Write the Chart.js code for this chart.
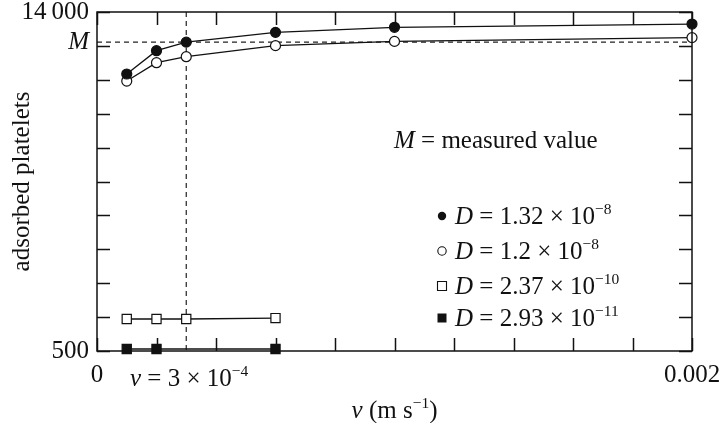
<!DOCTYPE html>
<html>
<head>
<meta charset="utf-8">
<script src="https://cdn.jsdelivr.net/npm/chart.js@4/dist/chart.umd.min.js"></script>
<style>
    html, body { margin: 0; padding: 0; background: #fff; }
    #wrap { width: 721px; height: 423px; }
</style>
</head>
<body>
<div id="wrap"><canvas id="plateletChart"></canvas></div>
<script>
// flow velocities (m/s)
const velocities = [0.0001, 0.0002, 0.0003, 0.0006, 0.001, 0.002];
const velocitiesSlow = [0.0001, 0.0002, 0.0003, 0.0006];
const velocitiesSlowest = [0.0001, 0.0002, 0.0006];

// adsorbed platelets per diffusion coefficient
const seriesD132 = [11530, 12460, 12800, 13190, 13390, 13520];
const seriesD120 = [11250, 11980, 12220, 12660, 12830, 12980];
const seriesD237 = [1775, 1775, 1775, 1810];
const seriesD293 = [580, 580, 580];

const measuredValue = 12800;
const markedVelocity = 0.0003;

const yMin = 500, yMax = 14000, yStep = 1350;
const xMin = 0, xMax = 0.002, xStep = 0.0002;

const legendMantissa = ['1.32', '1.2', '2.37', '2.93'];
const legendExponent = ['\u22128', '\u22128', '\u221210', '\u221211'];

const FONT = '"Liberation Serif", "Times New Roman", serif';
const SIZE = 25;

function toPoints(xs, ys) {
    return xs.map((x, i) => ({ x: x, y: ys[i] }));
}

function evenTicks(min, max, step) {
    const out = [];
    const n = Math.round((max - min) / step);
    for (let i = 0; i <= n; i++) out.push(min + i * step);
    return out;
}

// draws text runs with italic parts and superscripts, returns end x
function drawRuns(ctx, runs, x, y) {
    ctx.textBaseline = 'alphabetic';
    ctx.textAlign = 'left';
    for (const r of runs) {
        const size = r.sup ? SIZE * 0.62 : SIZE;
        ctx.font = (r.it ? 'italic ' : '') + size + 'px ' + FONT;
        ctx.fillText(r.t, x, r.sup ? y - SIZE * 0.42 : y);
        x += ctx.measureText(r.t).width;
    }
    return x;
}

function measureRuns(ctx, runs) {
    let w = 0;
    for (const r of runs) {
        const size = r.sup ? SIZE * 0.62 : SIZE;
        ctx.font = (r.it ? 'italic ' : '') + size + 'px ' + FONT;
        w += ctx.measureText(r.t).width;
    }
    return w;
}

function noPadding(scale) {
    scale.paddingTop = 0;
    scale.paddingBottom = 0;
    scale.paddingLeft = 0;
    scale.paddingRight = 0;
}

const decorPlugin = {
    id: 'decor',
    beforeDatasetsDraw(chart) {
        const ctx = chart.ctx;
        const area = chart.chartArea;
        const xs = chart.scales.x;
        const ys = chart.scales.y;
        ctx.save();
        ctx.strokeStyle = '#222';
        ctx.lineWidth = 1.2;
        ctx.setLineDash([5, 4]);
        const yM = ys.getPixelForValue(measuredValue);
        ctx.beginPath();
        ctx.moveTo(area.left, yM);
        ctx.lineTo(area.right, yM);
        const xV = xs.getPixelForValue(markedVelocity);
        ctx.moveTo(xV, area.top);
        ctx.lineTo(xV, area.bottom);
        ctx.stroke();
        ctx.restore();
    },
    afterDraw(chart) {
        const ctx = chart.ctx;
        const area = chart.chartArea;
        const xs = chart.scales.x;
        const ys = chart.scales.y;
        const tick = 13;
        ctx.save();
        ctx.strokeStyle = '#111';
        ctx.lineWidth = 1.5;
        ctx.strokeRect(area.left, area.top, area.right - area.left, area.bottom - area.top);
        ctx.beginPath();
        evenTicks(xMin, xMax, xStep).forEach(v => {
            const px = Math.round(xs.getPixelForValue(v)) + 0.5;
            ctx.moveTo(px, area.bottom);
            ctx.lineTo(px, area.bottom - tick);
            ctx.moveTo(px, area.top);
            ctx.lineTo(px, area.top + tick);
        });
        evenTicks(yMin, yMax, yStep).forEach(v => {
            const py = Math.round(ys.getPixelForValue(v)) + 0.5;
            ctx.moveTo(area.left, py);
            ctx.lineTo(area.left + tick, py);
            ctx.moveTo(area.right, py);
            ctx.lineTo(area.right - tick, py);
        });
        ctx.stroke();

        ctx.fillStyle = '#111';
        // annotation
        drawRuns(ctx, [{ t: 'M', it: true }, { t: ' = measured value' }], 394, 148);

        // legend
        const styles = ['fill', 'open', 'openSq', 'fillSq'];
        const rowY = [216, 251, 286, 318];
        styles.forEach((s, i) => {
            const mx = 442, my = rowY[i];
            ctx.beginPath();
            if (s === 'fill' || s === 'open') {
                ctx.arc(mx, my, 4.2, 0, Math.PI * 2);
            } else {
                ctx.rect(mx - 4.5, my - 4.5, 9, 9);
            }
            if (s === 'fill' || s === 'fillSq') {
                ctx.fill();
            } else {
                ctx.lineWidth = 1.1;
                ctx.stroke();
            }
            drawRuns(ctx, [
                { t: 'D', it: true },
                { t: ' = ' + legendMantissa[i] + ' \u00d7 10' },
                { t: legendExponent[i], sup: true }
            ], 455, my + 8);
        });

        // marked velocity label
        drawRuns(ctx, [
            { t: 'v', it: true },
            { t: ' = 3 \u00d7 10' },
            { t: '\u22124', sup: true }
        ], 130, 386);

        // x axis title
        const xTitle = [
            { t: 'v', it: true },
            { t: ' (m s' },
            { t: '\u22121', sup: true },
            { t: ')' }
        ];
        const w = measureRuns(ctx, xTitle);
        drawRuns(ctx, xTitle, (area.left + area.right) / 2 - w / 2, 418);

        // y axis title
        ctx.translate(22, (area.top + area.bottom) / 2);
        ctx.rotate(-Math.PI / 2);
        ctx.font = SIZE + 'px ' + FONT;
        ctx.textAlign = 'center';
        ctx.textBaseline = 'middle';
        ctx.fillText('adsorbed platelets', 0, 0);
        ctx.restore();
    }
};

const lineStyle = {
    showLine: true,
    borderColor: '#111',
    borderWidth: 1.3,
    pointBorderColor: '#111',
    pointBorderWidth: 1.2,
    tension: 0,
    clip: false
};

new Chart(document.getElementById('plateletChart'), {
    type: 'scatter',
    data: {
        datasets: [
            Object.assign({}, lineStyle, {
                label: 'D = 1.32e-8',
                data: toPoints(velocities, seriesD132),
                pointStyle: 'circle', pointRadius: 5, pointBackgroundColor: '#111'
            }),
            Object.assign({}, lineStyle, {
                label: 'D = 1.2e-8',
                data: toPoints(velocities, seriesD120),
                pointStyle: 'circle', pointRadius: 5, pointBackgroundColor: '#fff'
            }),
            Object.assign({}, lineStyle, {
                label: 'D = 2.37e-10',
                data: toPoints(velocitiesSlow, seriesD237),
                pointStyle: 'rect', pointRadius: 6.5, pointBackgroundColor: '#fff'
            }),
            Object.assign({}, lineStyle, {
                label: 'D = 2.93e-11',
                data: toPoints(velocitiesSlowest, seriesD293),
                pointStyle: 'rect', pointRadius: 6.5, pointBackgroundColor: '#111'
            })
        ]
    },
    options: {
        responsive: true,
        maintainAspectRatio: false,
        animation: false,
        layout: {
            padding: { left: 0, right: 29, top: 12, bottom: 0 }
        },
        plugins: {
            legend: { display: false },
            tooltip: { enabled: false },
            title: { display: false }
        },
        scales: {
            x: {
                type: 'linear',
                min: xMin,
                max: xMax,
                afterFit(scale) { scale.height = 72; noPadding(scale); },
                afterBuildTicks(scale) {
                    scale.ticks = [{ value: xMin }, { value: xMax }];
                },
                grid: { display: false, drawTicks: false },
                border: { display: false },
                ticks: {
                    autoSkip: false,
                    maxRotation: 0,
                    padding: 9,
                    color: '#111',
                    font: { family: FONT, size: SIZE },
                    callback: v => (v === 0 ? '0' : String(v))
                }
            },
            y: {
                type: 'linear',
                min: yMin,
                max: yMax,
                afterFit(scale) { scale.width = 97; noPadding(scale); },
                afterBuildTicks(scale) {
                    scale.ticks = [{ value: yMin }, { value: measuredValue }, { value: yMax }];
                },
                grid: { display: false, drawTicks: false },
                border: { display: false },
                ticks: {
                    autoSkip: false,
                    padding: 8,
                    color: '#111',
                    font: ctx => ({
                        family: FONT,
                        size: SIZE,
                        style: ctx.tick && ctx.tick.value === measuredValue ? 'italic' : 'normal'
                    }),
                    callback: v => {
                        if (v === measuredValue) return 'M';
                        if (v === yMax) return '14\u2009000';
                        return String(v);
                    }
                }
            }
        }
    },
    plugins: [decorPlugin]
});
</script>
</body>
</html>
